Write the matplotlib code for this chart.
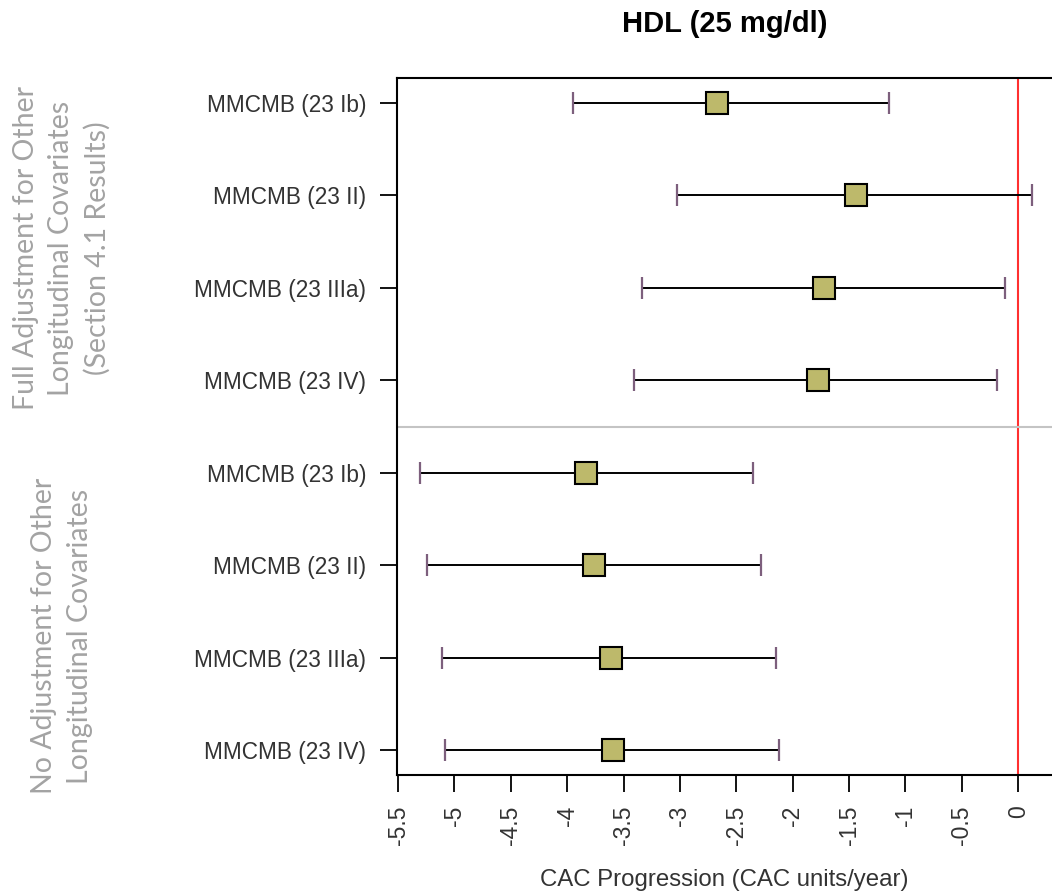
import matplotlib
matplotlib.use('Agg')
import matplotlib.pyplot as plt

# Data
row_labels = ['MMCMB (23 Ib)', 'MMCMB (23 II)', 'MMCMB (23 IIIa)', 'MMCMB (23 IV)',
              'MMCMB (23 Ib)', 'MMCMB (23 II)', 'MMCMB (23 IIIa)', 'MMCMB (23 IV)']
estimates = [-2.67, -1.44, -1.72, -1.78, -3.83, -3.76, -3.61, -3.59]
lower = [-3.95, -3.03, -3.34, -3.41, -5.31, -5.24, -5.11, -5.08]
upper = [-1.15, 0.12, -0.12, -0.19, -2.35, -2.28, -2.15, -2.12]
xticks = [-5.5, -5, -4.5, -4, -3.5, -3, -2.5, -2, -1.5, -1, -0.5, 0]
group_labels = ['Full Adjustment for Other\nLongitudinal Covariates\n(Section 4.1 Results)',
                'No Adjustment for Other\nLongitudinal Covariates']

plt.rcParams['font.family'] = ['Liberation Sans', 'DejaVu Sans']

fig = plt.figure(figsize=(10.52, 8.92), dpi=100)
ax = fig.add_axes([397 / 1052, 1 - 775 / 892, 1 - 397 / 1052, (775 - 78) / 892])

ypos = list(range(1, len(row_labels) + 1))

# Confidence interval lines
ax.hlines(ypos, lower, upper, color='black', linewidth=1.4, zorder=2)
# End caps
ax.vlines(lower, [y - 0.12 for y in ypos], [y + 0.12 for y in ypos],
          color='#7d5f7d', linewidth=1.6, zorder=2)
ax.vlines(upper, [y - 0.12 for y in ypos], [y + 0.12 for y in ypos],
          color='#7d5f7d', linewidth=1.6, zorder=2)
# Point estimates
ax.plot(estimates, ypos, linestyle='none', marker='s', markersize=16.5,
        markerfacecolor='#bdb96b', markeredgecolor='black', markeredgewidth=1.5, zorder=3)

# Reference line at zero and group separator
ax.axvline(0, color='#ff3030', linewidth=1.5, zorder=1)
ax.axhline(4.5, color='#c4c4c4', linewidth=1.5, zorder=1)

ax.set_xlim(-5.51, 0.30)
ax.set_ylim(8.27, 0.73)
ax.set_yticks(ypos)
ax.set_yticklabels(row_labels, fontsize=16.3, color='#333333')
ax.set_xticks(xticks)
ax.set_xticklabels([('%g' % t).replace('\u2212', '-') for t in xticks],
                   rotation=90, fontsize=16.5, color='#333333')
ax.tick_params(axis='both', length=12, width=1.3, pad=10, color='black')
ax.spines['right'].set_visible(False)
for s in ['left', 'top', 'bottom']:
    ax.spines[s].set_linewidth(1.5)

ax.set_xlabel('CAC Progression (CAC units/year)', fontsize=17.3, color='#333333', labelpad=17)
ax.set_title('HDL (25 mg/dl)', fontsize=21, fontweight='bold', pad=33)

# Group labels on the left
fig.text(62 / 1052, 1 - 248 / 892, group_labels[0], rotation=90, ha='center', va='center',
         fontsize=20.5, color='#a3a3a3', family=['Lato', 'DejaVu Sans'], linespacing=1.45,
         multialignment='center')
fig.text(62 / 1052, 1 - 636 / 892, group_labels[1], rotation=90, ha='center', va='center',
         fontsize=20.5, color='#a3a3a3', family=['Lato', 'DejaVu Sans'], linespacing=1.45,
         multialignment='center')

plt.savefig('out.png', dpi=100)
plt.close()
